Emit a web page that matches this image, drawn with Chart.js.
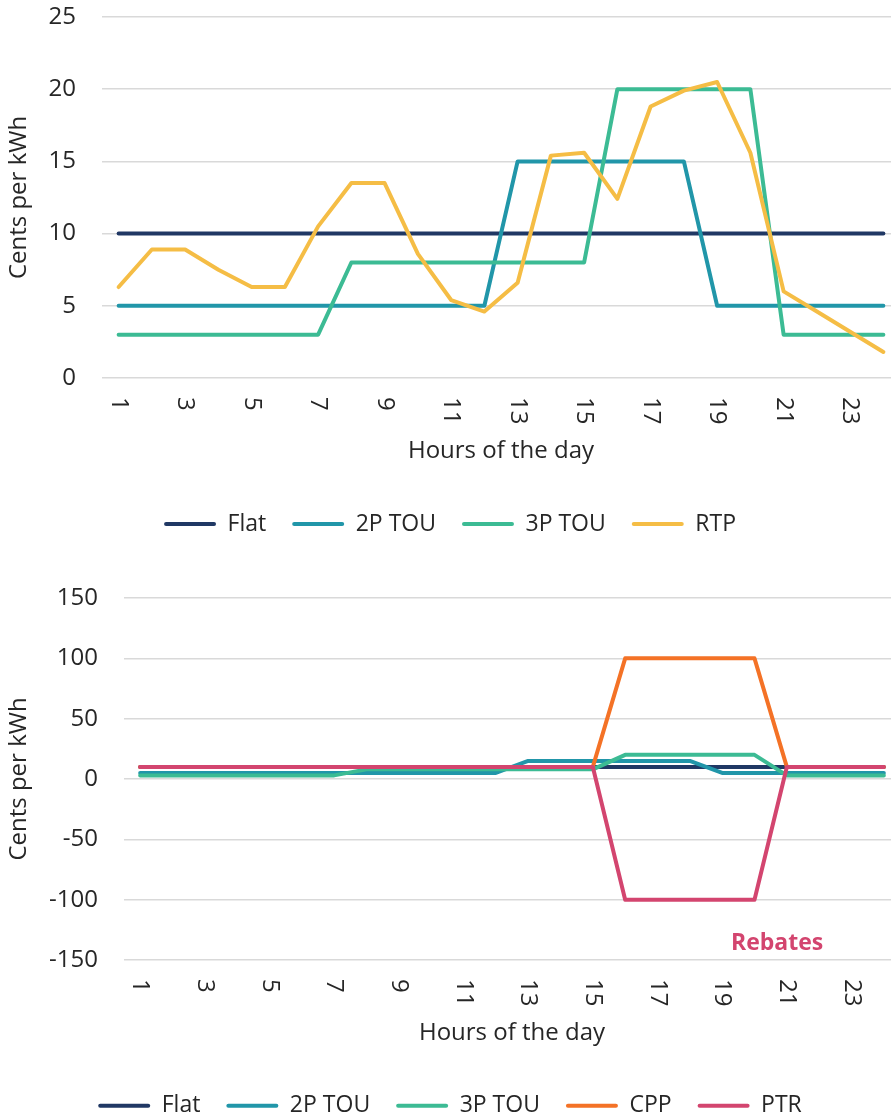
<!DOCTYPE html>
<html>
<head>
<meta charset="utf-8">
<title>Electricity rate designs</title>
<script src="https://cdn.jsdelivr.net/npm/chart.js@4.4.1/dist/chart.umd.min.js"></script>
<style>
  html, body { margin: 0; padding: 0; background: #fff; overflow: hidden; }
  #wrap { width: 900px; }
  canvas { display: block; }
</style>
</head>
<body>
<div id="wrap">
  <canvas id="topChart" width="900" height="560"></canvas>
  <canvas id="bottomChart" width="900" height="580"></canvas>
</div>
<script>
// hours of the day (x categories)
const hours = ['1', '2', '3', '4', '5', '6', '7', '8', '9', '10', '11', '12',
               '13', '14', '15', '16', '17', '18', '19', '20', '21', '22', '23', '24'];

// cents per kWh
const flat  = [10, 10, 10, 10, 10, 10, 10, 10, 10, 10, 10, 10, 10, 10, 10, 10, 10, 10, 10, 10, 10, 10, 10, 10];
const tou2p = [5, 5, 5, 5, 5, 5, 5, 5, 5, 5, 5, 5, 15, 15, 15, 15, 15, 15, 5, 5, 5, 5, 5, 5];
const tou3p = [3, 3, 3, 3, 3, 3, 3, 8, 8, 8, 8, 8, 8, 8, 8, 20, 20, 20, 20, 20, 3, 3, 3, 3];
const rtp   = [6.3, 8.9, 8.9, 7.5, 6.3, 6.3, 10.5, 13.5, 13.5, 8.6, 5.4, 4.6,
               6.6, 15.4, 15.6, 12.4, 18.8, 19.9, 20.5, 15.6, 6.0, 4.6, 3.2, 1.8];
const cpp   = [10, 10, 10, 10, 10, 10, 10, 10, 10, 10, 10, 10, 10, 10, 10, 100, 100, 100, 100, 100, 10, 10, 10, 10];
const ptr   = [10, 10, 10, 10, 10, 10, 10, 10, 10, 10, 10, 10, 10, 10, 10, -100, -100, -100, -100, -100, 10, 10, 10, 10];

const topTicks = { min: 0, max: 25, step: 5 };
const bottomTicks = { min: -150, max: 150, step: 50 };

const colors = {
    flat: '#203864',
    tou2p: '#2196A9',
    tou3p: '#3CBB94',
    rtp: '#F5BD45',
    cpp: '#F47226',
    ptr: '#D3456F'
};

const textColor = '#262626';
const fontFamily = "'Open Sans', 'DejaVu Sans', sans-serif";

Chart.defaults.font.family = fontFamily;
Chart.defaults.color = textColor;

function makeDataset(label, data, color, idx, total) {
    return {
        label: label,
        data: data,
        borderColor: color,
        backgroundColor: color,
        borderWidth: 4,
        pointRadius: 0,
        tension: 0,
        borderCapStyle: 'round',
        borderJoinStyle: 'round',
        order: total - idx // later series drawn on top
    };
}

// hour labels written top-to-bottom (rotated clockwise), every second hour
const xLabelPlugin = {
    id: 'xLabels',
    afterDraw(chart) {
        const { ctx, chartArea, scales } = chart;
        const x = scales.x;
        ctx.save();
        ctx.font = '24px ' + fontFamily;
        ctx.fillStyle = textColor;
        ctx.textAlign = 'left';
        ctx.textBaseline = 'middle';
        hours.forEach((h, i) => {
            if (i % 2) return;
            ctx.save();
            ctx.translate(x.getPixelForValue(i), chartArea.bottom + 19);
            ctx.rotate(Math.PI / 2);
            ctx.fillText(h, 0, 0);
            ctx.restore();
        });
        ctx.restore();
    }
};

const rebatesPlugin = {
    id: 'rebates',
    afterDraw(chart) {
        const { ctx, scales } = chart;
        ctx.save();
        ctx.font = 'bold 23px ' + fontFamily;
        ctx.fillStyle = colors.ptr;
        ctx.textAlign = 'center';
        ctx.textBaseline = 'alphabetic';
        ctx.fillText('Rebates', scales.x.getPixelForValue(19.7), scales.y.getPixelForValue(-142));
        ctx.restore();
    }
};

function buildOptions(ticks, yWidth, xHeight, titlePadBottom, padTop, padBottom) {
    return {
        responsive: false,
        devicePixelRatio: 1,
        animation: false,
        layout: { padding: { top: padTop, bottom: padBottom, left: 0, right: 0 } },
        plugins: {
            legend: {
                position: 'bottom',
                labels: {
                    font: { size: 23 },
                    color: textColor,
                    boxWidth: 52,
                    boxHeight: 4,
                    padding: 26,
                    generateLabels(chart) {
                        return chart.data.datasets.map((ds, i) => ({
                            text: ds.label,
                            fillStyle: ds.borderColor,
                            strokeStyle: ds.borderColor,
                            lineWidth: 0,
                            borderRadius: 2,
                            fontColor: textColor,
                            hidden: false,
                            datasetIndex: i
                        }));
                    }
                }
            },
            tooltip: { enabled: false }
        },
        scales: {
            x: {
                type: 'category',
                offset: true,
                grid: { display: false },
                border: { display: false },
                ticks: { display: false },
                title: {
                    display: true,
                    text: 'Hours of the day',
                    font: { size: 24 },
                    color: textColor,
                    padding: { top: 0, bottom: titlePadBottom }
                },
                afterFit(scale) { scale.height = xHeight; }
            },
            y: {
                min: ticks.min,
                max: ticks.max,
                grid: { color: '#D9D9D9', lineWidth: 1.5, drawTicks: false },
                border: { display: false },
                ticks: {
                    stepSize: ticks.step,
                    padding: 26,
                    font: { size: 24 },
                    color: textColor
                },
                title: {
                    display: true,
                    text: 'Cents per kWh',
                    font: { size: 24 },
                    color: textColor,
                    padding: { top: 5, bottom: 0 }
                },
                afterFit(scale) {
                    scale.width = yWidth;
                    // keep only half a label of room above/below the plot
                    scale.paddingTop = 14;
                    scale.paddingBottom = 14;
                }
            }
        }
    };
}

// top chart: flat, TOU and real-time pricing
const topSeries = [
    ['Flat', flat, colors.flat],
    ['2P TOU', tou2p, colors.tou2p],
    ['3P TOU', tou3p, colors.tou3p],
    ['RTP', rtp, colors.rtp]
];

new Chart(document.getElementById('topChart').getContext('2d'), {
    type: 'line',
    data: {
        labels: hours,
        datasets: topSeries.map((s, i) => makeDataset(s[0], s[1], s[2], i, topSeries.length))
    },
    options: buildOptions(topTicks, 102, 108.5, 20.7, 17, 14.5),
    plugins: [xLabelPlugin]
});

// bottom chart: adds critical peak pricing and peak time rebates
const bottomSeries = [
    ['Flat', flat, colors.flat],
    ['2P TOU', tou2p, colors.tou2p],
    ['3P TOU', tou3p, colors.tou3p],
    ['CPP', cpp, colors.cpp],
    ['PTR', ptr, colors.ptr]
];

new Chart(document.getElementById('bottomChart').getContext('2d'), {
    type: 'line',
    data: {
        labels: hours,
        datasets: bottomSeries.map((s, i) => makeDataset(s[0], s[1], s[2], i, bottomSeries.length))
    },
    options: buildOptions(bottomTicks, 124, 108.2, 20.4, 38, 12.8),
    plugins: [xLabelPlugin, rebatesPlugin]
});
</script>
</body>
</html>
